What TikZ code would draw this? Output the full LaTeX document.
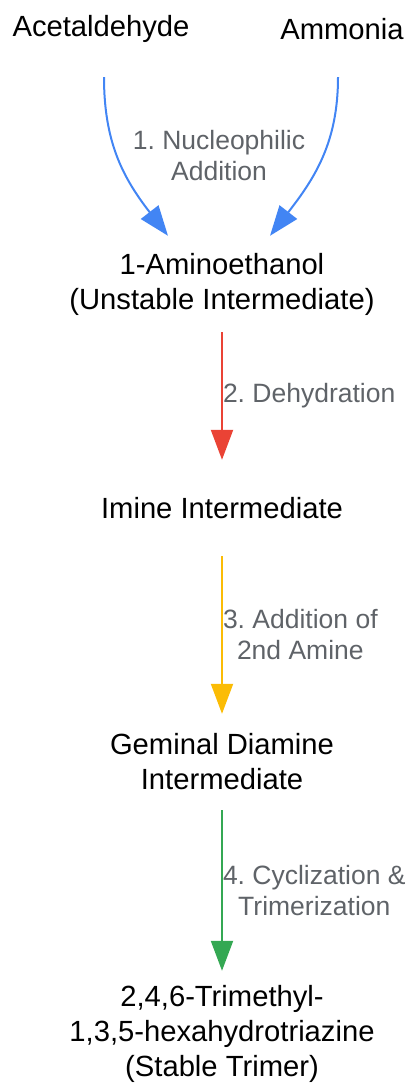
\documentclass[tikz,border=0pt]{standalone}
\usepackage{fontspec}
\setmainfont{Liberation Sans}
\frenchspacing
\usetikzlibrary{arrows.meta}
\definecolor{gblue}{HTML}{4285F4}
\definecolor{gred}{HTML}{EA4335}
\definecolor{gyellow}{HTML}{FBBC05}
\definecolor{ggreen}{HTML}{34A853}
\definecolor{lblgray}{HTML}{5F6368}
\begin{document}
\begin{tikzpicture}[x=1pt, y=-1pt,
  species/.style={align=center, inner sep=0pt, minimum height=96pt, font=\fontsize{29.2}{35}\selectfont},
  steplabel/.style={align=center, inner sep=0pt, text=lblgray, font=\fontsize{26.5}{31}\selectfont},
  reaction/.style={line width=2pt, -{Triangle[length=30pt, width=22pt]}}]
\useasboundingbox (0,0) rectangle (409,1084);
\node[species] (ace) at (101,29) {Acetaldehyde};
\node[species] (amm) at (342,29) {Ammonia};
\node[species] (amino) at (222,284) {1-Aminoethanol\\(Unstable Intermediate)};
\node[species] (imine) at (222,508) {Imine Intermediate};
\node[species] (gem) at (222,762) {Geminal Diamine\\Intermediate};
\node[species, minimum height=126pt] (tri) at (222,1034) {2,4,6-Trimethyl-\\1,3,5-hexahydrotriazine\\(Stable Trimer)};
\draw[reaction, gblue] ([xshift=3pt]ace.south) .. controls +(0,65) and +(-45,-58) .. ([xshift=-54pt]amino.north);
\draw[reaction, gblue] ([xshift=-4pt]amm.south) .. controls +(0,65) and +(45,-58) .. ([xshift=48pt]amino.north);
\node[steplabel] (lbl1) at (219,156) {1. Nucleophilic\\Addition};
\draw[reaction, gred] (amino) -- node[steplabel, anchor=west] {2. Dehydration} (imine);
\draw[reaction, gyellow] (imine) -- node[steplabel, anchor=west] {3. Addition of\\2nd Amine} (gem);
\draw[reaction, ggreen] (gem) -- node[steplabel, anchor=west] {4. Cyclization \&\\Trimerization} (tri);
\end{tikzpicture}
\end{document}
